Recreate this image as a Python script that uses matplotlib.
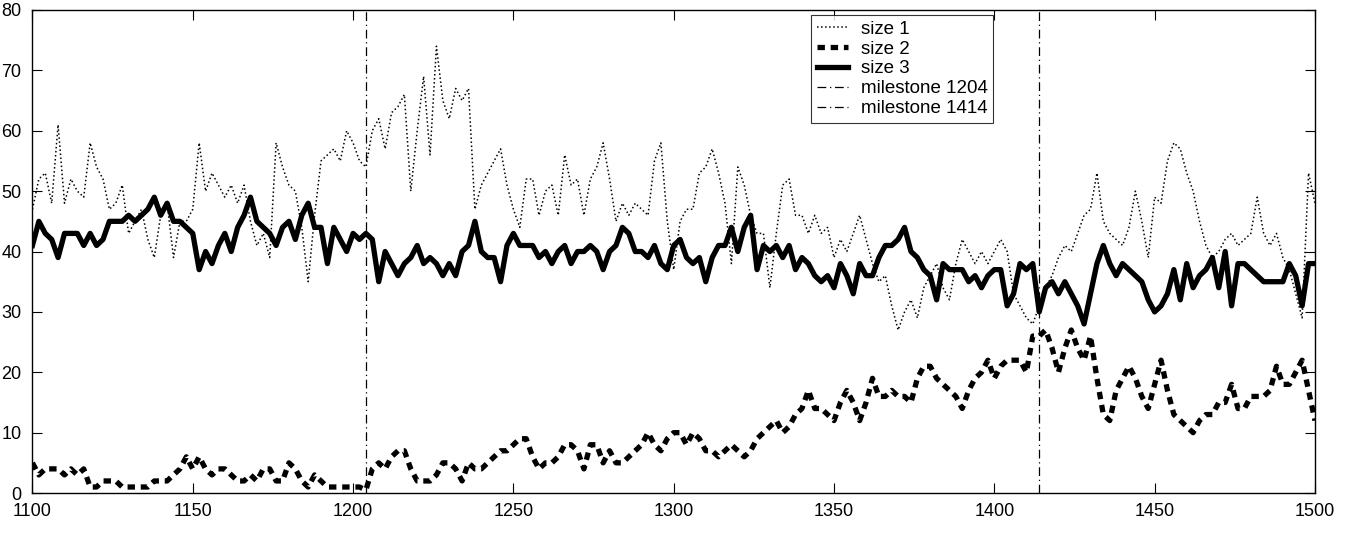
import matplotlib
matplotlib.use("Agg")
import matplotlib.pyplot as plt
import numpy as np

plt.rcParams['font.family'] = ['Liberation Sans', 'DejaVu Sans']

# x runs 1100..1500 in steps of 2
x = np.arange(1100, 1501, 2)

size1 = [47, 52, 53, 48, 61, 48, 52, 50, 49, 58, 54,
         52, 47, 48, 51, 43, 45, 47, 42, 39, 46,
         48, 39, 45, 45, 47, 58, 50, 53, 51, 49,
         51, 48, 51, 45, 41, 43, 39, 58, 54, 51,
         50, 44, 35, 46, 55, 56, 57, 55, 60, 58,
         55, 54, 60, 62, 57, 63, 64, 66, 50, 60,
         69, 56, 74, 65, 62, 67, 65, 67, 47, 51,
         53, 55, 57, 51, 47, 44, 52, 52, 46, 50,
         51, 46, 56, 51, 52, 46, 52, 54, 58, 52,
         45, 48, 46, 48, 47, 46, 55, 58, 45, 37,
         45, 47, 47, 53, 54, 57, 53, 48, 38, 54,
         51, 46, 43, 43, 34, 43, 51, 52, 46, 46,
         43, 46, 43, 44, 39, 42, 40, 43, 46, 42,
         38, 35, 36, 31, 27, 30, 32, 29, 34, 36,
         38, 34, 32, 38, 42, 40, 38, 40, 38, 40,
         42, 40, 33, 31, 29, 28, 31, 34, 36, 39,
         41, 40, 43, 46, 47, 53, 45, 43, 42, 41,
         44, 50, 45, 39, 49, 48, 55, 58, 57, 53,
         50, 45, 41, 39, 40, 42, 43, 41, 42, 43,
         49, 43, 41, 43, 39, 37, 33, 29, 53, 48]

size2 = [5, 3, 4, 4, 4, 3, 4, 3, 4, 1, 1,
         2, 2, 2, 1, 1, 1, 1, 1, 2, 2,
         2, 3, 4, 6, 4, 6, 4, 3, 4, 4,
         3, 2, 2, 3, 2, 4, 4, 2, 2, 5,
         4, 2, 1, 3, 2, 1, 1, 1, 1, 1,
         1, 0.5, 4, 5, 4, 6, 7, 7, 4, 2,
         2, 2, 3, 5, 5, 4, 2, 5, 4, 4,
         5, 6, 7, 7, 8, 9, 9, 6, 4, 5,
         5, 6, 8, 8, 7, 4, 8, 8, 5, 7,
         5, 5, 6, 7, 8, 10, 8, 7, 9, 10,
         10, 8, 10, 9, 7, 7, 6, 7, 8, 7,
         6, 7, 9, 10, 11, 12, 10, 11, 13, 14,
         17, 14, 14, 13, 12, 15, 17, 15, 12, 15,
         19, 16, 16, 17, 16, 16, 15, 19, 21, 21,
         19, 18, 17, 16, 14, 17, 19, 20, 22, 19,
         21, 22, 22, 22, 20, 26, 26, 27, 24, 20,
         24, 27, 24, 22, 26, 19, 13, 12, 17, 19,
         21, 19, 16, 14, 18, 22, 17, 13, 12, 11,
         10, 12, 13, 13, 15, 15, 18, 14, 14, 16,
         16, 16, 17, 21, 18, 18, 20, 22, 17, 12]

size3 = [41, 45, 43, 42, 39, 43, 43, 43, 41, 43, 41,
         42, 45, 45, 45, 46, 45, 46, 47, 49, 46,
         48, 45, 45, 44, 43, 37, 40, 38, 41, 43,
         40, 44, 46, 49, 45, 44, 43, 41, 44, 45,
         42, 46, 48, 44, 44, 38, 44, 42, 40, 43,
         42, 43, 42, 35, 40, 38, 36, 38, 39, 41,
         38, 39, 38, 36, 38, 36, 40, 41, 45, 40,
         39, 39, 35, 41, 43, 41, 41, 41, 39, 40,
         38, 40, 41, 38, 40, 40, 41, 40, 37, 40,
         41, 44, 43, 40, 40, 39, 41, 38, 37, 41,
         42, 39, 38, 39, 35, 39, 41, 41, 44, 40,
         44, 46, 37, 41, 40, 41, 39, 41, 37, 39,
         38, 36, 35, 36, 34, 38, 36, 33, 38, 36,
         36, 39, 41, 41, 42, 44, 40, 39, 37, 36,
         32, 38, 37, 37, 37, 35, 36, 34, 36, 37,
         37, 31, 33, 38, 37, 38, 30, 34, 35, 33,
         35, 33, 31, 28, 33, 38, 41, 38, 36, 38,
         37, 36, 35, 32, 30, 31, 33, 37, 32, 38,
         34, 36, 37, 39, 34, 40, 31, 38, 38, 37,
         36, 35, 35, 35, 35, 38, 36, 31, 38, 38]

milestones = [1204, 1414]

fig = plt.figure(figsize=(13.52, 5.46), dpi=100)
ax = fig.add_axes([0.024, 0.097, 0.9486, 0.8847])

ax.plot(x, size1, color='black', lw=1.1, ls=':', label='size 1')
ax.plot(x, size2, color='black', lw=3.8, ls=(0, (1.4, 1.1)), label='size 2')
ax.plot(x, size3, color='black', lw=3.8, ls='-', label='size 3')
for m in milestones:
    ax.axvline(m, color='black', lw=0.9, ls=(0, (7, 3, 1, 3)),
               label='milestone %d' % m)

ax.set_xlim(1100, 1500)
ax.set_ylim(0, 80)
ax.set_xticks(np.arange(1100, 1501, 50))
ax.set_yticks(np.arange(0, 81, 10))
ax.tick_params(direction='in', length=7, width=0.8, top=True, right=True,
               labelsize=13)
ax.tick_params(axis='x', pad=7)
ax.tick_params(axis='y', pad=8)
for s in ax.spines.values():
    s.set_linewidth(1.0)

leg = ax.legend(loc='upper left', bbox_to_anchor=(0.607, 0.99), fontsize=13.5,
                frameon=True, fancybox=False, edgecolor='black',
                handlelength=1.7, labelspacing=0.15, borderpad=0.3,
                handletextpad=0.65, borderaxespad=0)
leg.get_frame().set_linewidth(0.8)

fig.savefig('out.png', dpi=100)
